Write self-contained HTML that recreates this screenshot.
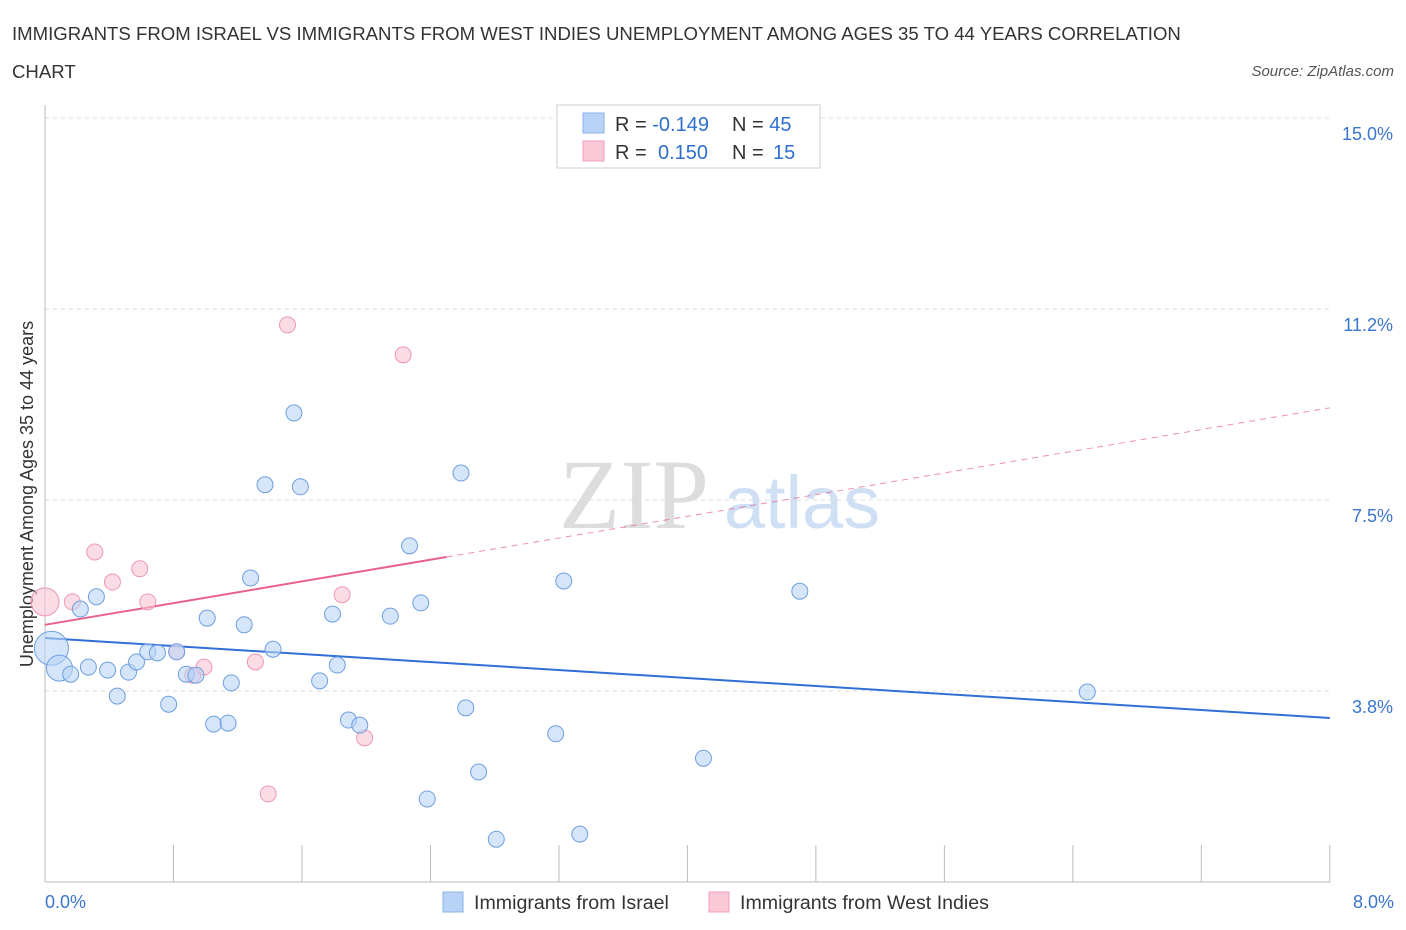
<!DOCTYPE html>
<html><head><meta charset="utf-8"><style>
body{margin:0;background:#fff;font-family:"Liberation Sans",sans-serif;}
svg{display:block}
</style></head><body>
<svg id="chart" width="1406" height="930">
<text x="12" y="40" font-size="18.6" fill="#333">IMMIGRANTS FROM ISRAEL VS IMMIGRANTS FROM WEST INDIES UNEMPLOYMENT AMONG AGES 35 TO 44 YEARS CORRELATION</text>
<text x="12" y="78" font-size="18.6" fill="#333">CHART</text>
<text x="1394" y="76" font-size="15" fill="#555" font-style="italic" text-anchor="end">Source: ZipAtlas.com</text>
<text x="33" y="494" font-size="18" fill="#333" text-anchor="middle" transform="rotate(-90 33 494)">Unemployment Among Ages 35 to 44 years</text>
<g>
<text x="634" y="528" font-size="100" fill="#ddd" font-family="Liberation Serif,serif" text-anchor="middle">ZIP</text>
<text x="802" y="528" font-size="74" fill="#cfe0f5" text-anchor="middle">atlas</text>
</g>
<g id="grid"></g><g id="ticks"></g><g id="lines"></g><g id="pts"></g>
<g>
<rect x="557" y="105" width="263" height="63" fill="#fff" stroke="#ccc"/>
<rect x="583" y="113" width="21" height="20" fill="#b9d3f7" stroke="#8ab2e8"/>
<rect x="583" y="141" width="21" height="20" fill="#fac8d6" stroke="#f0a0b8"/>
<text x="615" y="131" font-size="20" fill="#333">R = <tspan fill="#2f6fcc">-0.149</tspan></text>
<text x="732" y="131" font-size="20" fill="#333">N = <tspan fill="#2f6fcc">45</tspan></text>
<text x="615" y="159" font-size="20" fill="#333">R = <tspan fill="#2f6fcc" x="658">0.150</tspan></text>
<text x="732" y="159" font-size="20" fill="#333">N = <tspan fill="#2f6fcc" x="773">15</tspan></text>
</g>
<g>
<rect x="443" y="892" width="20" height="20" fill="#b9d3f7" stroke="#8ab2e8"/>
<text x="474" y="909" font-size="19.6" fill="#333">Immigrants from Israel</text>
<rect x="709" y="892" width="20" height="20" fill="#fac8d6" stroke="#f0a0b8"/>
<text x="740" y="909" font-size="19.6" fill="#333">Immigrants from West Indies</text>
</g>
<text x="45" y="908" font-size="18" fill="#3a75cc">0.0%</text>
<text x="1394" y="908" font-size="18" fill="#3a75cc" text-anchor="end">8.0%</text>
</svg>
<script>
const yTickVals=[15,11.25,7.5,3.75];
const yTickLabels=["15.0%","11.2%","7.5%","3.8%"];
const israelX=[0.04,0.09,0.16,0.22,0.27,0.32,0.39,0.45,0.52,0.57,0.64,0.70,0.77,0.82,0.88,0.94,1.01,1.05,1.14,1.16,1.24,1.28,1.37,1.42,1.55,1.59,1.71,1.79,1.82,1.89,1.96,2.15,2.27,2.34,2.38,2.59,2.62,2.70,2.81,3.18,3.23,3.33,4.10,4.70,6.49];
const israelY=[4.59,4.20,4.08,5.36,4.22,5.60,4.16,3.65,4.12,4.32,4.52,4.50,3.49,4.52,4.08,4.06,5.18,3.10,3.12,3.91,5.05,5.97,7.80,4.57,9.21,7.76,3.95,5.26,4.26,3.18,3.08,5.22,6.60,5.48,1.63,8.03,3.42,2.16,0.84,2.91,5.91,0.94,2.43,5.71,3.73];
const westX=[0,0.17,0.31,0.42,0.59,0.64,0.82,0.92,0.99,1.31,1.39,1.51,1.85,1.99,2.23];
const westY=[5.50,5.50,6.48,5.89,6.15,5.50,4.52,4.06,4.22,4.32,1.73,10.94,5.64,2.83,10.35];
const israelTrend=[4.79,3.22];
const westTrend=[5.05,9.31];
const xs=v=>45+v*160.6, ys=v=>882-v*50.93;
const NS="http://www.w3.org/2000/svg";
function mk(p,t,a){const e=document.createElementNS(NS,t);for(const k in a)e.setAttribute(k,a[k]);p.appendChild(e);return e;}
const grid=document.getElementById('grid'),ticks=document.getElementById('ticks'),lines=document.getElementById('lines'),pts=document.getElementById('pts');
yTickVals.forEach((v,i)=>{
 const l=mk(grid,'line',{x1:45,x2:1330,y1:ys(v),y2:ys(v),stroke:'#ddd','stroke-dasharray':'4,4'});
 
 
 const t=mk(grid,'text',{x:1393,y:ys(v)+22,'font-size':18,fill:'#3a75cc','text-anchor':'end'});
 t.textContent=yTickLabels[i];
 
 
});
const ax=mk(ticks,'line',{x1:45,x2:45,y1:105,y2:882,stroke:'#bbb'});


const xa=mk(ticks,'line',{x1:45,x2:1330,y1:882,y2:882,stroke:'#bbb'});


for(let i=0;i<=10;i++){const x=xs(i*0.8);const t=mk(ticks,'line',{x1:x,x2:x,y1:845,y2:882,stroke:'#bbb'});
 
 }
let l1=mk(lines,'line',{x1:xs(0),y1:ys(israelTrend[0]),x2:xs(8),y2:ys(israelTrend[1]),stroke:'#2f6fd6','stroke-width':2});


const wAt=x=>westTrend[0]+(westTrend[1]-westTrend[0])*x/8;
let l2=mk(lines,'line',{x1:xs(0),y1:ys(wAt(0)),x2:xs(2.5),y2:ys(wAt(2.5)),stroke:'#e8618c','stroke-width':2});


let l3=mk(lines,'line',{x1:xs(2.5),y1:ys(wAt(2.5)),x2:xs(8),y2:ys(wAt(8)),stroke:'#e8618c','stroke-width':1,'stroke-dasharray':'6,5',opacity:0.7});


westX.forEach((x,i)=>{const c=mk(pts,'circle',{cx:xs(x),cy:ys(westY[i]),r:i===0?14:8,fill:'#f9c4d4',stroke:'#ee97b3','fill-opacity':0.6});
 
 });
israelX.forEach((x,i)=>{const c=mk(pts,'circle',{cx:xs(x),cy:ys(israelY[i]),r:i===0?17:(i===1?13:8),fill:'#b9d3f7',stroke:'#6f9fe0','fill-opacity':0.6});
 
 });
</script>
</body></html>
